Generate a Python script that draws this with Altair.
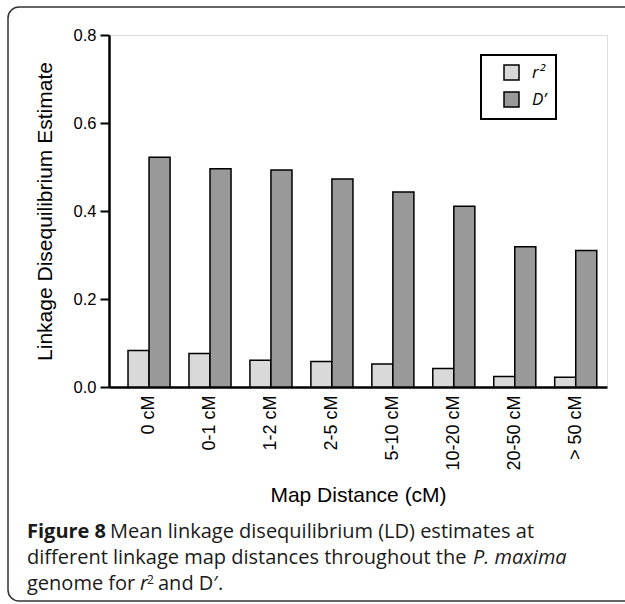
import altair as alt
import pandas as pd

# ---- data ----
categories = ["0 cM", "0-1 cM", "1-2 cM", "2-5 cM", "5-10 cM", "10-20 cM", "20-50 cM", "> 50 cM"]
series_names = ["r²", "D’"]
r2_values = [0.083, 0.076, 0.061, 0.058, 0.052, 0.042, 0.024, 0.022]
dprime_values = [0.522, 0.496, 0.493, 0.473, 0.443, 0.411, 0.319, 0.310]
y_ticks = [0.0, 0.2, 0.4, 0.6, 0.8]
colors = ["#d9d9d9", "#999999"]

rows = []
for c, a, b in zip(categories, r2_values, dprime_values):
    rows.append({"category": c, "measure": series_names[0], "value": a})
    rows.append({"category": c, "measure": series_names[1], "value": b})
df = pd.DataFrame(rows)

AXFONT = "Liberation Sans"
CAPFONT = "Open Sans"

bars = alt.Chart(df).mark_bar(stroke="black", strokeWidth=1.5).encode(
    x=alt.X(
        "category:N",
        sort=categories,
        scale=alt.Scale(paddingInner=0.31, paddingOuter=0.24, align=0.65),
        axis=alt.Axis(
            title="Map Distance (cM)",
            labelAngle=-90,
            ticks=False,
            tickSize=0,
            labelPadding=8,
            labelFontSize=18,
            labelFont=AXFONT,
            labelColor="black",
            titleFont=AXFONT,
            titleFontSize=21,
            titleFontWeight="normal",
            titleColor="black",
            titleY=108,
            titleBaseline="middle",
            domainColor="black",
            domainWidth=2.5,
        ),
    ),
    xOffset=alt.XOffset("measure:N", sort=series_names,
                        scale=alt.Scale(paddingInner=0, paddingOuter=0)),
    y=alt.Y(
        "value:Q",
        scale=alt.Scale(domain=[0, 0.8], nice=False),
        axis=alt.Axis(
            title="Linkage Disequilibrium Estimate",
            values=y_ticks,
            format=".1f",
            grid=False,
            tickSize=9,
            tickWidth=2,
            tickColor="black",
            labelPadding=4,
            labelFontSize=16.5,
            labelFont=AXFONT,
            labelColor="black",
            titleFont=AXFONT,
            titleFontSize=21,
            titleFontWeight="normal",
            titleColor="black",
            titleX=-64,
            titleBaseline="middle",
            domainColor="black",
            domainWidth=2.5,
        ),
    ),
    color=alt.Color(
        "measure:N",
        sort=series_names,
        scale=alt.Scale(domain=series_names, range=colors),
        legend=alt.Legend(
            title=None,
            orient="none",
            legendX=372,
            legendY=20,
            symbolType="square",
            symbolSize=225,
            symbolStrokeColor="black",
            symbolStrokeWidth=1.5,
            labelFont=CAPFONT,
            labelFontSize=17,
            labelFontStyle="italic",
            labelColor="black",
            labelOffset=12,
            rowPadding=6,
            padding=9,
            symbolOffset=13,
            strokeColor="black",
            fillColor="white",
        ),
    ),
)

one = pd.DataFrame({"_": [0]})

frame = alt.Chart(one).mark_rect(
    fill="transparent", stroke="#333333", strokeWidth=1.5, cornerRadius=11
).encode(
    x=alt.value(8 - 109), x2=alt.value(640 - 109),
    y=alt.value(7 - 35), y2=alt.value(601 - 35),
)


def seg(text, x, y, weight="normal", style="normal", size=20):
    return alt.Chart(one).mark_text(
        align="left", baseline="alphabetic", font=CAPFONT, fontSize=size,
        fontWeight=weight, fontStyle=style, color="#1a1a1a",
    ).encode(x=alt.value(x), y=alt.value(y), text=alt.value(text))


caption = [
    seg("Figure 8", -82, 503, weight="bold"),
    seg("Mean linkage disequilibrium (LD) estimates at", 1, 503),
    seg("different linkage map distances throughout the", -82, 529),
    seg("P. maxima", 364, 529, style="italic"),
    seg("genome for", -82, 555),
    seg("r", 31, 555, style="italic"),
    seg("2", 38, 549, size=12),
    seg("and D′.", 49, 555),
]

chart = alt.layer(frame, bars, *caption).properties(
    width=498,
    height=352,
    autosize=alt.AutoSizeParams(type="none"),
    padding={"left": 109, "top": 35, "right": 18, "bottom": 217},
).configure_view(stroke=None).configure(background="white").configure_legend(strokeWidth=2)

chart.save("out.html", embed_options={"renderer": "svg", "actions": False})
